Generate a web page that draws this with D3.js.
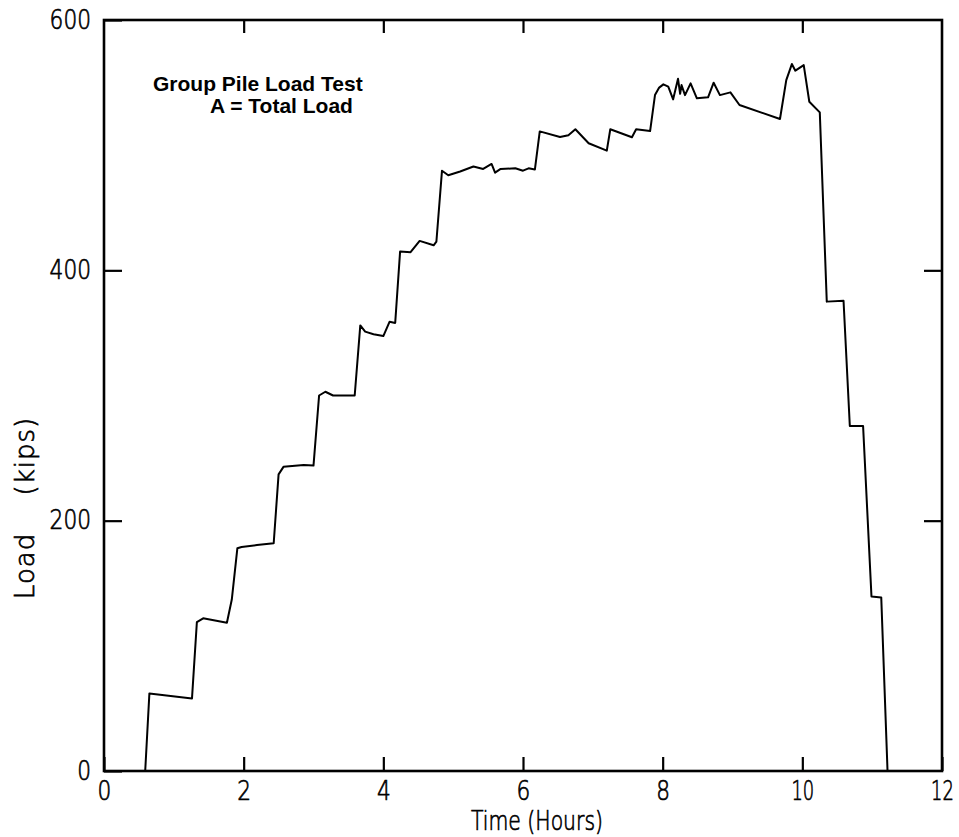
<!DOCTYPE html>
<html>
<head>
<meta charset="utf-8">
<script src="https://cdn.jsdelivr.net/npm/d3@7"></script>
<style>
  html, body { margin: 0; padding: 0; background: #fff; }
  svg { display: block; }
</style>
</head>
<body>
<svg id="chart" width="959" height="837"></svg>
<script>
// Group pile load test: total load (kips) against elapsed time (hours)
const timeHours = [
  0.59, 0.65, 1.26, 1.33, 1.42, 1.76, 1.83, 1.91, 1.97, 2.19, 2.43,
  2.50, 2.57, 2.86, 3.00, 3.08, 3.17, 3.28, 3.59,
  3.67, 3.74, 3.86, 4.00, 4.09, 4.17,
  4.24, 4.39, 4.52, 4.72, 4.76,
  4.84, 4.93, 5.10, 5.29, 5.43, 5.55, 5.60, 5.68, 5.89, 6.00, 6.08, 6.17,
  6.24, 6.53, 6.65, 6.75, 6.94, 7.20,
  7.25, 7.56, 7.62, 7.82,
  7.89, 7.95, 8.01, 8.08, 8.15, 8.22, 8.25, 8.27, 8.32, 8.40, 8.49, 8.65, 8.73, 8.82, 8.97, 9.10, 9.68,
  9.77, 9.85, 9.90, 10.02, 10.10, 10.25,
  10.35, 10.59, 10.68, 10.87, 10.99, 11.13, 11.22
];
const totalLoad = [
  0, 62, 58, 119, 122, 118.5, 137, 178, 179, 180.5, 182,
  237, 243, 244.5, 244, 300, 303, 300, 300,
  356, 351, 349, 347.5, 359, 358,
  415, 414.5, 423.5, 420, 423,
  479.6, 476, 479, 483, 481, 485, 478, 481, 481.5, 479.6, 481.5, 480.5,
  511, 506.5, 508, 512.7, 501.5, 495.6,
  512.7, 506.3, 512.7, 511.3,
  540, 546, 548.6, 546.7, 536.6, 553, 541, 548, 540, 549.4, 537.4, 538.2, 549.9, 540, 542.2, 532.1, 520.9,
  552, 564.8, 559.5, 564, 534.7, 526.2,
  375, 375.7, 275.6, 275.6, 139.5, 138.7, 0
];
const xTicks = [0, 2, 4, 6, 8, 10, 12];
const yTicks = [0, 200, 400, 600];
const noteLines = ["Group Pile Load Test", "A = Total Load"];

const svg = d3.select("#chart");
const plotLeft = 104, plotRight = 942, plotTop = 20, plotBottom = 771;

const x = d3.scaleLinear().domain([0, 12]).range([plotLeft, plotRight]);
const y = d3.scaleLinear().domain([0, 600]).range([plotBottom, plotTop]);

const numFont = "'DejaVu Sans', sans-serif";
// narrow plotter-style numerals: "1" is slimmer than the other digits
const glyphWidth = ch => (ch === "1" ? 9 : 13.8);

// thin stroked lettering used for ticks and axis titles
function plotterText(sel) {
  sel.attr("fill", "#000")
    .attr("stroke", "#000")
    .attr("stroke-width", 0.7)
    .style("font-family", numFont)
    .style("font-size", "26px")
    .style("font-weight", "200");
}

function styleAxis(g) {
  g.select(".domain").remove();
  g.selectAll(".tick line").attr("stroke", "#000").attr("stroke-width", 2.2);
  g.selectAll("text")
    .call(plotterText)
    .attr("textLength", function () {
      return Array.from(this.textContent).reduce((s, c) => s + glyphWidth(c), 0);
    })
    .attr("lengthAdjust", "spacingAndGlyphs");
}

// bottom axis with labels, ticks pointing inward
svg.append("g")
  .attr("transform", `translate(0,${plotBottom})`)
  .call(d3.axisBottom(x).tickValues(xTicks).tickSize(-14).tickPadding(10.5).tickFormat(d3.format("d")))
  .call(styleAxis);

// top axis, ticks only
svg.append("g")
  .attr("transform", `translate(0,${plotTop})`)
  .call(d3.axisTop(x).tickValues(xTicks.slice(1, -1)).tickSize(-13).tickFormat(""))
  .call(styleAxis);

// left axis with labels
svg.append("g")
  .attr("transform", `translate(${plotLeft},0)`)
  .call(d3.axisLeft(y).tickValues(yTicks).tickSize(-18).tickPadding(13).tickFormat(d3.format("d")))
  .call(styleAxis);

// right axis, ticks only
svg.append("g")
  .attr("transform", `translate(${plotRight},0)`)
  .call(d3.axisRight(y).tickValues(yTicks.slice(1, -1)).tickSize(-18).tickFormat(""))
  .call(styleAxis);

// plot frame
svg.append("rect")
  .attr("x", plotLeft).attr("y", plotTop)
  .attr("width", plotRight - plotLeft).attr("height", plotBottom - plotTop)
  .attr("fill", "none").attr("stroke", "#000").attr("stroke-width", 2.6);

// load history curve
const pts = timeHours.map((t, i) => [t, totalLoad[i]]);
const line = d3.line().x(d => x(d[0])).y(d => y(d[1]));
svg.append("path")
  .datum(pts)
  .attr("d", line)
  .attr("fill", "none")
  .attr("stroke", "#000")
  .attr("stroke-width", 2)
  .attr("stroke-linejoin", "round");

// annotation
svg.append("text")
  .attr("x", 153).attr("y", 91)
  .style("font-family", "'Liberation Sans', Arial, sans-serif")
  .style("font-weight", "bold").style("font-size", "21px")
  .text(noteLines[0]);
svg.append("text")
  .attr("x", 210).attr("y", 113)
  .style("font-family", "'Liberation Sans', Arial, sans-serif")
  .style("font-weight", "bold").style("font-size", "21px")
  .text(noteLines[1]);

// axis titles
svg.append("text")
  .attr("x", 471).attr("y", 830)
  .call(plotterText)
  .attr("textLength", 132).attr("lengthAdjust", "spacingAndGlyphs")
  .text("Time (Hours)");

svg.append("text")
  .attr("transform", "translate(34,508) rotate(-90)")
  .attr("text-anchor", "middle")
  .call(plotterText)
  .style("word-spacing", "28px").style("letter-spacing", "1px")
  .text("Load (kips)");
</script>
</body>
</html>
